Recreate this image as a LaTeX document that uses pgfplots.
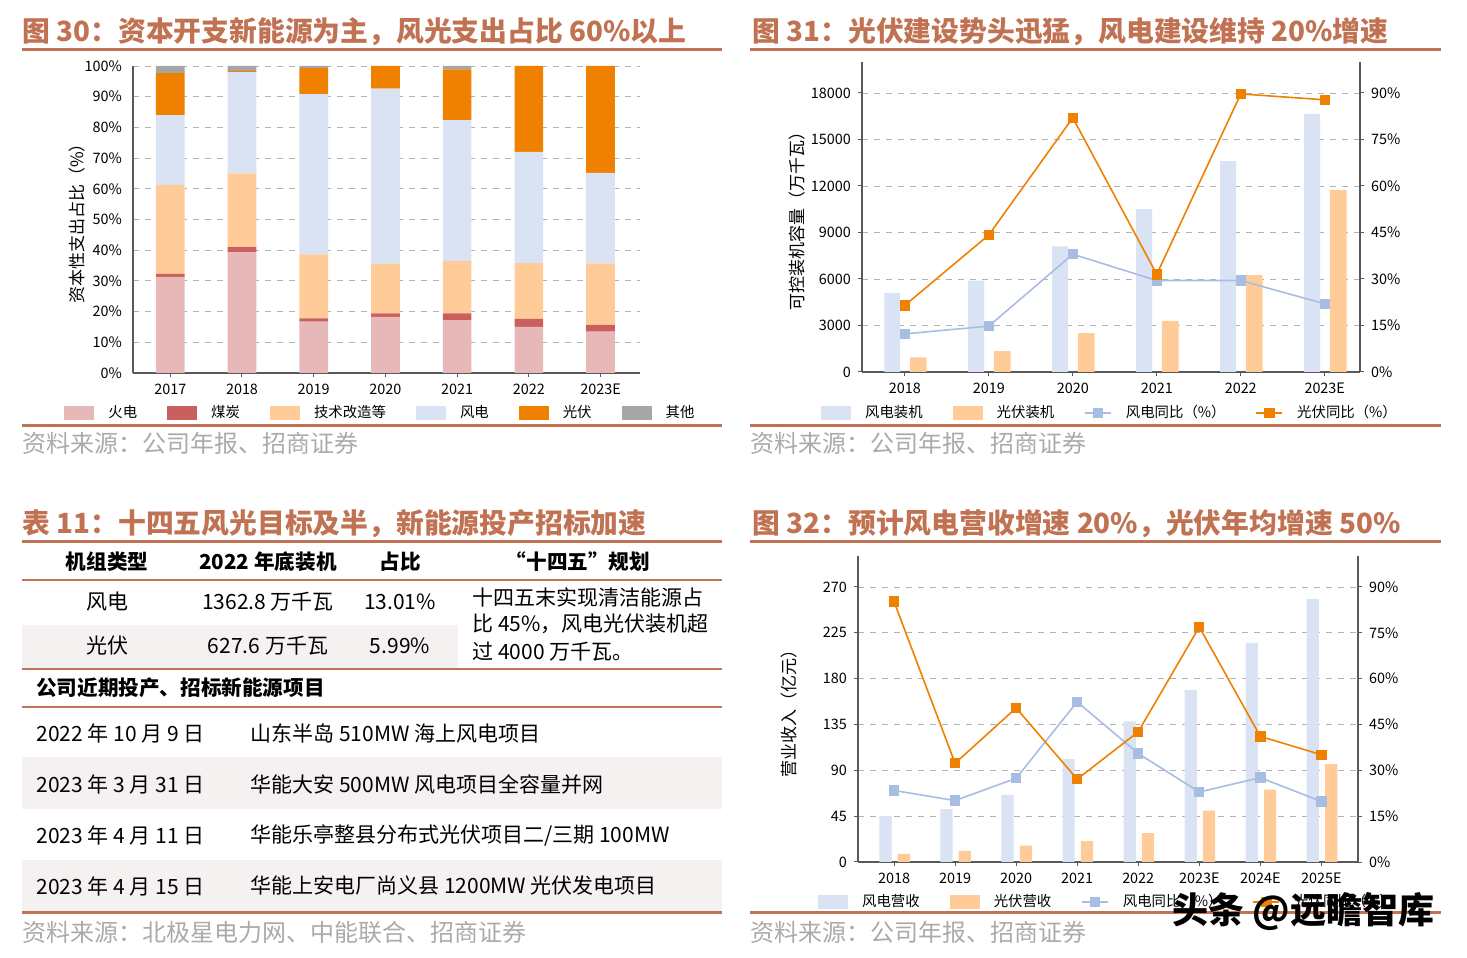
\documentclass[border=0pt]{standalone}
\usepackage{fontspec}
\setmainfont{Noto Sans CJK SC}
\usepackage{pgfplots}
\pgfplotsset{compat=1.18}

\definecolor{brn}{RGB}{193,114,82}
\definecolor{huo}{RGB}{230,184,183}
\definecolor{mei}{RGB}{201,96,94}
\definecolor{jishu}{RGB}{255,204,153}
\definecolor{feng}{RGB}{218,227,243}
\definecolor{guang}{RGB}{240,128,0}
\definecolor{qita}{RGB}{166,166,166}
\definecolor{fline}{RGB}{168,189,226}
\definecolor{src}{RGB}{170,170,170}
\definecolor{rowbg}{RGB}{245,241,240}

\pgfplotsset{
  barleg/.style={legend image code/.code={\fill[##1,draw=none] (0pt,-3.3pt) rectangle (15pt,3.3pt);}},
  lineleg/.style={legend image code/.code={\draw[##1,mark repeat=2,mark phase=2] plot coordinates {(0pt,0pt) (6.5pt,0pt) (13pt,0pt)};}},
  panel/.style={
    scale only axis, anchor=south west,
    axis line style={draw=black!65, line width=0.6pt, -},
    tick align=outside, major tick length=2pt,
    tick style={draw=black!65, line width=0.5pt},
    ymajorgrids, grid style={dashed, black!30, line width=0.4pt},
    tick label style={font=\fontsize{7.2}{8}\selectfont},
    /pgf/number format/assume math mode=true,
    ylabel style={font=\fontsize{8.5}{10}\selectfont},
    legend style={draw=none, fill=none, font=\fontsize{7.2}{8}\selectfont,
      /tikz/every odd column/.append style={column sep=5pt},
      /tikz/every even column/.append style={column sep=13pt}},
  },
}

\begin{document}
\begin{tikzpicture}
\path[use as bounding box] (0,0) rectangle (733.5pt,479pt);

% ---------- titles, rules, sources, table (pixel coordinates) ----------
\begin{scope}[x=0.5pt,y=-0.5pt,shift={(0,479pt)}]
  \tikzset{ttl/.style={anchor=west, text=brn, font=\fontsize{13.9}{16}\selectfont\bfseries, inner sep=0pt},
           srcs/.style={anchor=west, text=src, font=\fontsize{12}{13}\selectfont, inner sep=0pt}}
  \node[ttl] at (22,32) {图 30：资本开支新能源为主，风光支出占比 60\%以上};
  \node[ttl] at (752,32) {图 31：光伏建设势头迅猛，风电建设维持 20\%增速};
  \node[ttl] at (22,524) {表 11：十四五风光目标及半，新能源投产招标加速};
  \node[ttl] at (752,524) {图 32：预计风电营收增速 20\%，光伏年均增速 50\%};
  \draw[brn, line width=1.5pt] (22,50) -- (722,50);
  \draw[brn, line width=1.5pt] (750,50) -- (1441,50);
  \draw[brn, line width=1.5pt] (22,426) -- (722,426);
  \draw[brn, line width=1.5pt] (750,426) -- (1441,426);
  \draw[brn, line width=1.5pt] (22,542) -- (722,542);
  \draw[brn, line width=1.5pt] (750,542) -- (1441,542);
  \draw[brn, line width=1.5pt] (750,913) -- (1441,913);
  \node[srcs] at (22,443) {资料来源：公司年报、招商证券};
  \node[srcs] at (750,443) {资料来源：公司年报、招商证券};
  \node[srcs] at (22,932) {资料来源：北极星电力网、中能联合、招商证券};
  \node[srcs] at (750,932) {资料来源：公司年报、招商证券};

  % table
  \fill[rowbg] (22,625) rectangle (458,668);
  \fill[rowbg] (22,757) rectangle (722,809);
  \fill[rowbg] (22,860) rectangle (722,911);
  \draw[brn, line width=1.2pt] (22,580) -- (722,580);
  \draw[brn, line width=1.2pt] (22,669) -- (722,669);
  \draw[brn, line width=1.2pt] (22,707) -- (722,707);
  \draw[brn, line width=1.5pt] (22,913) -- (722,913);
  \tikzset{th/.style={font=\fontsize{10.3}{12}\selectfont\bfseries, inner sep=0pt},
           td/.style={font=\fontsize{10.5}{12}\selectfont, inner sep=0pt}}
  \node[th] at (107,562) {机组类型};
  \node[th] at (268,562) {2022 年底装机};
  \node[th] at (400,562) {占比};
  \node[th] at (578,562) {“十四五”规划};
  \node[td] at (107,602) {风电};
  \node[td] at (268,602) {1362.8 万千瓦};
  \node[td] at (400,602) {13.01\%};
  \node[td] at (107,646) {光伏};
  \node[td] at (268,646) {627.6 万千瓦};
  \node[td] at (400,646) {5.99\%};
  \node[td,anchor=west] at (472,597) {十四五末实现清洁能源占};
  \node[td,anchor=west] at (472,624) {比 45\%，风电光伏装机超};
  \node[td,anchor=west] at (472,652) {过 4000 万千瓦。};
  \node[th,anchor=west] at (36,688) {公司近期投产、招标新能源项目};
  \node[td,anchor=west] at (36,733) {2022 年 10 月 9 日};
  \node[td,anchor=west] at (250,733) {山东半岛 510MW 海上风电项目};
  \node[td,anchor=west] at (36,784) {2023 年 3 月 31 日};
  \node[td,anchor=west] at (250,784) {华能大安 500MW 风电项目全容量并网};
  \node[td,anchor=west] at (36,835) {2023 年 4 月 11 日};
  \node[td,anchor=west] at (250,835) {华能乐亭整县分布式光伏项目二/三期 100MW};
  \node[td,anchor=west] at (36,886) {2023 年 4 月 15 日};
  \node[td,anchor=west] at (250,886) {华能上安电厂尚义县 1200MW 光伏发电项目};
\end{scope}

% ---------- chart 30 ----------
\begin{axis}[panel, at={(66.5pt,292.5pt)}, width=253.5pt, height=153.5pt,
  ybar stacked, bar width=0.4,
  xmin=-0.52, xmax=6.55, ymin=0, ymax=100,
  axis x line*=bottom, axis y line*=left,
  xtick={0,...,6}, xticklabels={2017,2018,2019,2020,2021,2022,2023E},
  ytick={0,10,...,100}, yticklabel={\pgfmathprintnumber{\tick}\%},
  ytick style={draw=none},
  ylabel={资本性支出占比（\%）}, ylabel shift=-7pt,
  legend columns=6,
  legend style={at={(0.49,-0.13)}, anchor=center},
  every axis plot/.append style={barleg, draw=none},
]
\addplot[fill=huo] coordinates {(0,31.3) (1,39.3) (2,16.7) (3,18.3) (4,17.2) (5,15.0) (6,13.5)};
\addplot[fill=mei] coordinates {(0,1.0) (1,1.7) (2,1.1) (3,1.1) (4,2.2) (5,2.6) (6,2.2)};
\addplot[fill=jishu] coordinates {(0,29.0) (1,24.0) (2,20.8) (3,16.2) (4,17.1) (5,18.2) (6,20.0)};
\addplot[fill=feng] coordinates {(0,22.7) (1,33.0) (2,52.2) (3,57.0) (4,45.9) (5,36.2) (6,29.5)};
\addplot[fill=guang] coordinates {(0,13.7) (1,0.4) (2,8.5) (3,7.4) (4,16.5) (5,28.0) (6,34.8)};
\addplot[fill=qita] coordinates {(0,2.3) (1,1.6) (2,0.7) (3,0) (4,1.1) (5,0) (6,0)};
\legend{火电,煤炭,技术改造等,风电,光伏,其他}
\end{axis}

% ---------- chart 31 ----------
\begin{axis}[panel, at={(431pt,293pt)}, width=249pt, height=155pt,
  xmin=-0.51, xmax=5.42, ymin=0, ymax=20000,
  axis x line*=bottom, axis y line*=left,
  xtick={0,...,5}, xticklabels={2018,2019,2020,2021,2022,2023E},
  ytick={0,3000,...,18000}, scaled y ticks=false,
  yticklabel style={/pgf/number format/1000 sep={}},
  ylabel={可控装机容量（万千瓦）}, ylabel shift=-4pt,
  legend columns=4,
  legend style={at={(0.5,-0.132)}, anchor=center},
]
\addplot[ybar, barleg, bar width=0.19, bar shift=-0.15, fill=feng, draw=none]
  coordinates {(0,5100) (1,5900) (2,8100) (3,10500) (4,13600) (5,16650)};
\addplot[ybar, barleg, bar width=0.2, bar shift=0.16, fill=jishu, draw=none]
  coordinates {(0,950) (1,1350) (2,2500) (3,3300) (4,6250) (5,11750)};
\addlegendimage{lineleg, fline, line width=0.8pt, mark=square*, mark size=2.2pt}
\addlegendimage{lineleg, guang, line width=0.8pt, mark=square*, mark size=2.2pt}
\legend{风电装机,光伏装机,风电同比（\%）,光伏同比（\%）}
\end{axis}
\begin{axis}[panel, at={(431pt,293pt)}, width=249pt, height=155pt,
  xmin=-0.51, xmax=5.42, ymin=0, ymax=100,
  axis x line=none, axis y line*=right, ymajorgrids=false,
  ytick={0,15,...,90}, yticklabel={\pgfmathprintnumber{\tick}\%},
]
\addplot[fline, line width=0.8pt, mark=square*, mark size=2.2pt]
  coordinates {(0,12.3) (1,14.8) (2,38.0) (3,29.5) (4,29.5) (5,22.0)};
\addplot[guang, line width=0.8pt, mark=square*, mark size=2.2pt]
  coordinates {(0,21.5) (1,44.2) (2,82.0) (3,31.5) (4,89.7) (5,87.8)};
\end{axis}

% ---------- chart 32 ----------
\begin{axis}[panel, at={(429pt,48pt)}, width=250pt, height=152.8pt,
  xmin=-0.59, xmax=7.6, ymin=0, ymax=300,
  axis x line*=bottom, axis y line*=left,
  xtick={0,...,7}, xticklabels={2018,2019,2020,2021,2022,2023E,2024E,2025E},
  ytick={0,45,...,270},
  ylabel={营业收入（亿元）}, ylabel shift=6pt,
  legend columns=4,
  legend style={at={(0.5,-0.131)}, anchor=center},
]
\addplot[ybar, barleg, bar width=0.2, bar shift=-0.14, fill=feng, draw=none]
  coordinates {(0,45) (1,52) (2,66) (3,101) (4,138) (5,169) (6,215) (7,258)};
\addplot[ybar, barleg, bar width=0.2, bar shift=0.16, fill=jishu, draw=none]
  coordinates {(0,8) (1,11) (2,16) (3,20.5) (4,28.4) (5,50.5) (6,71) (7,96)};
\addlegendimage{lineleg, fline, line width=0.8pt, mark=square*, mark size=2.2pt}
\addlegendimage{lineleg, guang, line width=0.8pt, mark=square*, mark size=2.2pt}
\legend{风电营收,光伏营收,风电同比（\%）,光伏同比（\%）}
\end{axis}
\begin{axis}[panel, at={(429pt,48pt)}, width=250pt, height=152.8pt,
  xmin=-0.59, xmax=7.6, ymin=0, ymax=100,
  axis x line=none, axis y line*=right, ymajorgrids=false,
  ytick={0,15,...,90}, yticklabel={\pgfmathprintnumber{\tick}\%},
]
\addplot[fline, line width=0.8pt, mark=square*, mark size=2.2pt]
  coordinates {(0,23.4) (1,20.1) (2,27.4) (3,52.4) (4,35.5) (5,22.9) (6,27.6) (7,19.8)};
\addplot[guang, line width=0.8pt, mark=square*, mark size=2.2pt]
  coordinates {(0,85.2) (1,32.3) (2,50.4) (3,27.1) (4,42.6) (5,76.9) (6,41.1) (7,35.1)};
\end{axis}

% watermark
\node[anchor=west, inner sep=0pt, font=\fontsize{18}{20}\selectfont\bfseries] at (586pt,23pt) {头条 @远瞻智库};
\end{tikzpicture}
\end{document}
